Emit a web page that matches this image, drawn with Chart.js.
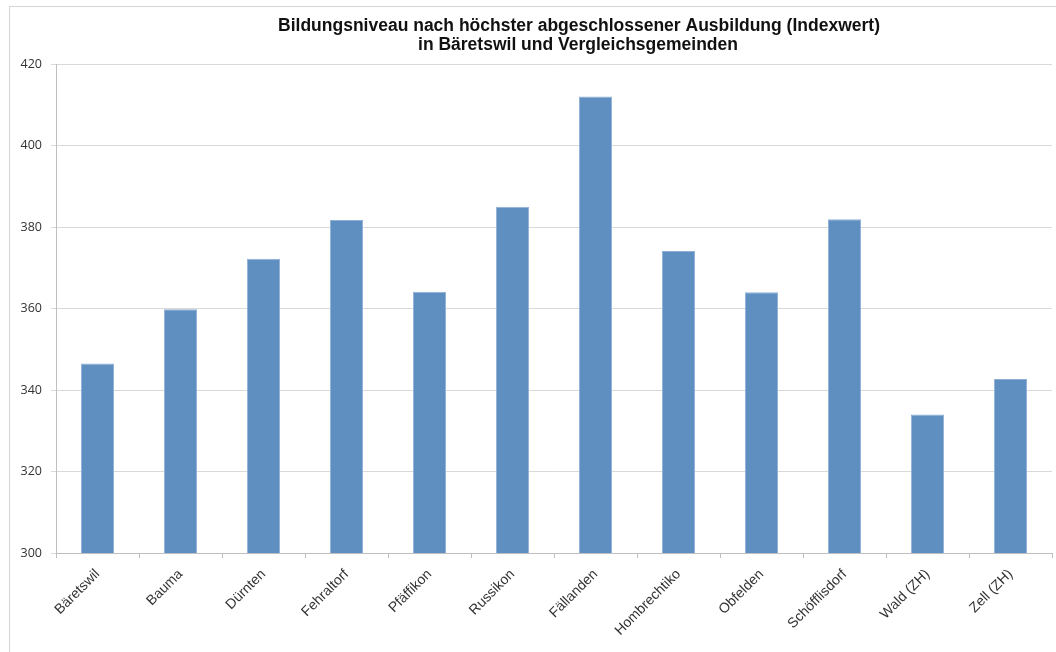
<!DOCTYPE html>
<html>
  <head>
    <meta charset="utf-8"/>
    <style type="text/css">
      body {
        margin: 0px;
        padding: 0px;
        background: #ffffff;
      }
      #container {
        position: relative;
        width: 1056px;
        height: 652px;
      }
      #frame {
        position: absolute;
        left: 9px;
        top: 6px;
        right: 0px;
        bottom: 0px;
        border-left: 1px solid #d6d6d6;
        border-top: 1px solid #d6d6d6;
        pointer-events: none;
      }
    </style>
  </head>
  <body>
    <div id="container">
      <canvas id="chart"></canvas>
      <div id="frame"></div>
    </div>
  </body>
  <script src="https://cdn.jsdelivr.net/npm/chart.js@4.4.1/dist/chart.umd.min.js"></script>
  <script>
    var gemeinden = ['Bäretswil', 'Bauma', 'Dürnten', 'Fehraltorf', 'Pfäffikon', 'Russikon',
                     'Fällanden', 'Hombrechtiko', 'Obfelden', 'Schöfflisdorf', 'Wald (ZH)', 'Zell (ZH)'];
    var indexwert = [346.5, 359.8, 372.2, 381.7, 364.1, 385.0, 412.0, 374.1, 364.0, 381.9, 334.0, 342.7];
    var titleLines = ['Bildungsniveau nach höchster abgeschlossener Ausbildung (Indexwert)',
                      'in Bäretswil und Vergleichsgemeinden'];

    // title is drawn by hand, it sits a bit right of the centre in the original
    var titlePlugin = {
      id: 'titleLines',
      afterDraw: function(chart) {
        var ctx = chart.ctx;
        ctx.save();
        ctx.font = 'bold 17.5px "Liberation Sans", Arial, sans-serif';
        ctx.fillStyle = '#111111';
        ctx.textAlign = 'center';
        ctx.textBaseline = 'middle';
        ctx.fillText(titleLines[0], 579, 26);
        ctx.fillText(titleLines[1], 578, 45);
        ctx.restore();
      }
    };

    var ctx = document.getElementById('chart').getContext('2d');
    var chart = new Chart(ctx, {
      type: 'bar',
      data: {
        labels: gemeinden,
        datasets: [{
          data: indexwert,
          backgroundColor: '#5f8fc1',
          borderColor: '#8fb0d6',
          borderWidth: 1,
          barPercentage: 0.4,
          categoryPercentage: 1.0
        }]
      },
      options: {
        responsive: true,
        maintainAspectRatio: false,
        animation: false,
        layout: {
          padding: { left: 0, right: 4, top: 64, bottom: 0 }
        },
        plugins: {
          legend: { display: false },
          title: { display: false },
          tooltip: { enabled: false }
        },
        scales: {
          x: {
            grid: {
              offset: true,
              drawOnChartArea: false,
              tickLength: 5,
              color: '#bfbfbf'
            },
            border: { color: '#bfbfbf' },
            ticks: {
              minRotation: 45,
              maxRotation: 45,
              padding: 8,
              color: '#333333',
              font: { family: '"Liberation Sans", Arial, sans-serif', size: 14 }
            },
            afterFit: function(scale) { scale.height = 99; }
          },
          y: {
            min: 300,
            max: 420,
            grid: {
              color: '#d9d9d9',
              tickLength: 5
            },
            border: { color: '#bfbfbf' },
            ticks: {
              stepSize: 20,
              padding: 9,
              color: '#333333',
              font: { family: '"Open Sans", sans-serif', size: 12.5 }
            },
            afterFit: function(scale) { scale.width = 56; }
          }
        }
      },
      plugins: [titlePlugin]
    });
  </script>
</html>
